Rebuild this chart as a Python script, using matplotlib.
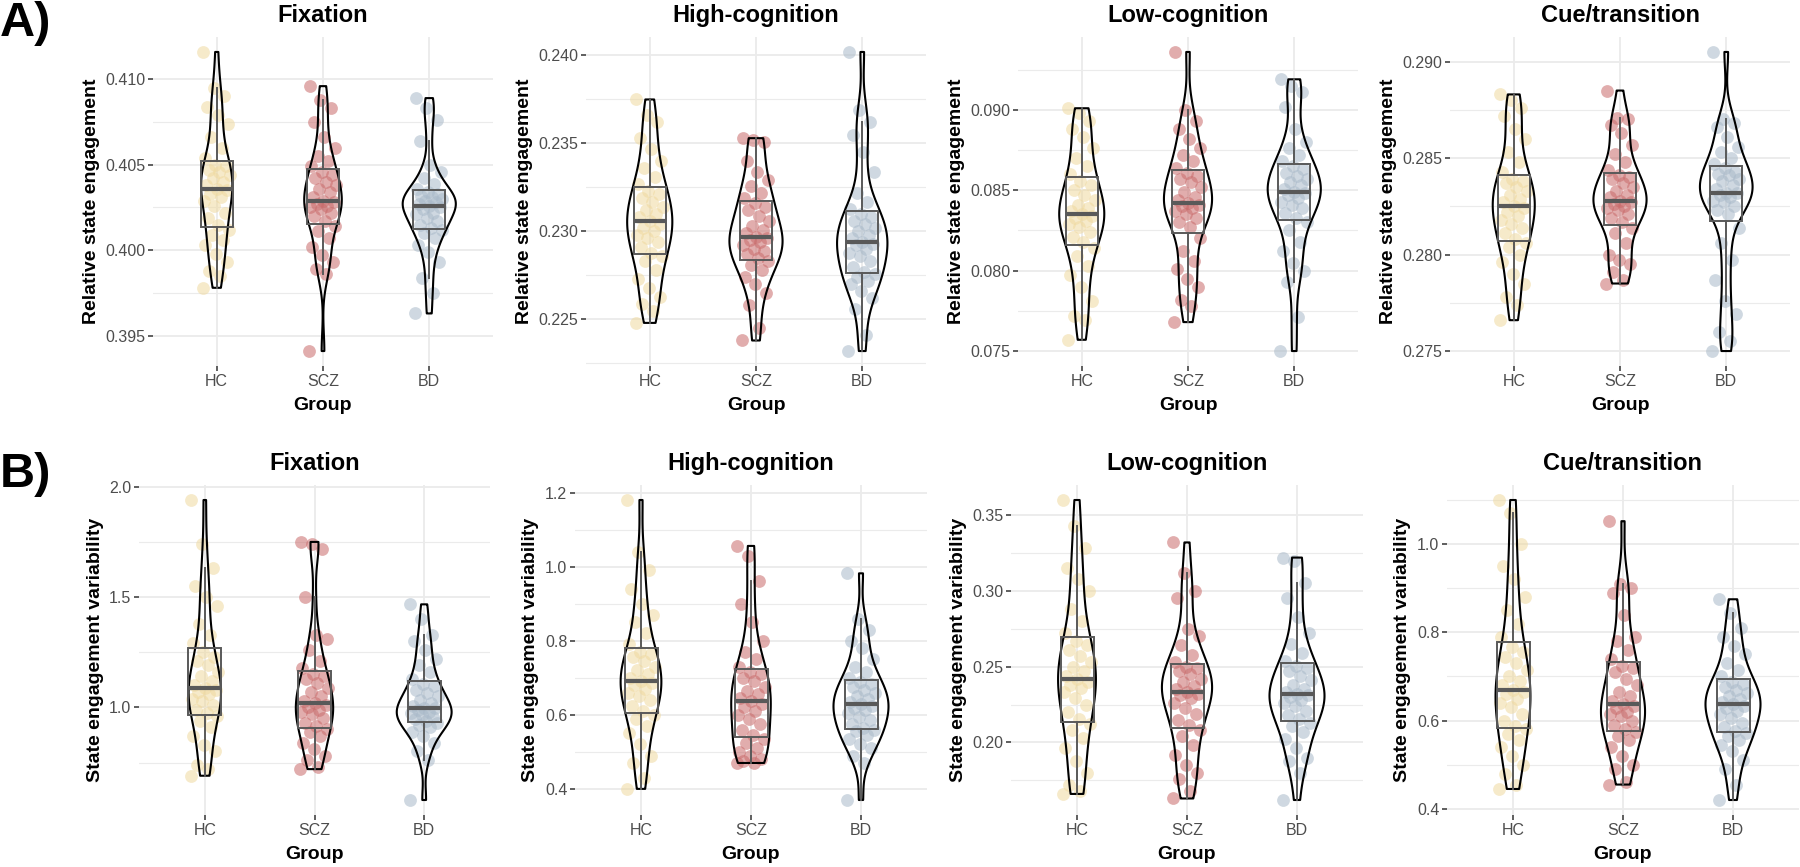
import numpy as np
import matplotlib
matplotlib.use("Agg")
import matplotlib.pyplot as plt
from matplotlib.patches import Rectangle

plt.rcParams['font.family'] = ['Liberation Sans', 'DejaVu Sans']

groups = ["HC", "SCZ", "BD"]
group_colors = ["#EFD99F", "#C96B6B", "#A9B9C9"]
states = ["Fixation", "High-cognition", "Low-cognition", "Cue/transition"]

# A) relative state engagement, one list per group (values read off the figure)
rel_fix_hc = [0.3978, 0.3985, 0.3988, 0.3993, 0.3998, 0.4003, 0.4006, 0.4009, 0.4012, 0.4015,
              0.4019, 0.4022, 0.4026, 0.4029, 0.4031, 0.4033, 0.4035, 0.4036, 0.4038, 0.4040,
              0.4042, 0.4044, 0.4046, 0.4047, 0.4049, 0.4050, 0.4054, 0.4060, 0.4066, 0.4074,
              0.4079, 0.4084, 0.4090, 0.4095, 0.4116]
rel_fix_scz = [0.3941, 0.3986, 0.3989, 0.3993, 0.3997, 0.4002, 0.4007, 0.4011, 0.4014, 0.4017,
               0.4020, 0.4022, 0.4024, 0.4025, 0.4026, 0.4027, 0.4028, 0.4029, 0.4031, 0.4034,
               0.4036, 0.4038, 0.4040, 0.4042, 0.4044, 0.4046, 0.4049, 0.4052, 0.4055, 0.4060,
               0.4066, 0.4075, 0.4083, 0.4088, 0.4096]
rel_fix_bd = [0.3963, 0.3975, 0.3984, 0.3993, 0.3999, 0.4003, 0.4007, 0.4010, 0.4012, 0.4013,
              0.4015, 0.4017, 0.4019, 0.4021, 0.4022, 0.4024, 0.4025, 0.4026, 0.4027, 0.4028,
              0.4029, 0.4030, 0.4031, 0.4032, 0.4033, 0.4034, 0.4036, 0.4039, 0.4042, 0.4046,
              0.4050, 0.4064, 0.4076, 0.4083, 0.4089]

rel_high_hc = [0.2248, 0.2255, 0.2259, 0.2263, 0.2268, 0.2273, 0.2278, 0.2283, 0.2286, 0.2288,
               0.2291, 0.2294, 0.2296, 0.2298, 0.2300, 0.2302, 0.2304, 0.2306, 0.2308, 0.2310,
               0.2312, 0.2314, 0.2317, 0.2319, 0.2321, 0.2323, 0.2327, 0.2331, 0.2336, 0.2340,
               0.2347, 0.2353, 0.2362, 0.2366, 0.2375]
rel_high_scz = [0.2238, 0.2245, 0.2258, 0.2265, 0.2270, 0.2274, 0.2278, 0.2281, 0.2283, 0.2285,
                0.2287, 0.2289, 0.2290, 0.2292, 0.2294, 0.2295, 0.2296, 0.2297, 0.2299, 0.2301,
                0.2303, 0.2306, 0.2309, 0.2312, 0.2314, 0.2316, 0.2319, 0.2322, 0.2326, 0.2329,
                0.2334, 0.2340, 0.2351, 0.2352, 0.2353]
rel_high_bd = [0.2232, 0.2241, 0.2256, 0.2262, 0.2266, 0.2270, 0.2272, 0.2274, 0.2276, 0.2277,
               0.2280, 0.2283, 0.2286, 0.2288, 0.2290, 0.2292, 0.2293, 0.2294, 0.2296, 0.2298,
               0.2300, 0.2302, 0.2304, 0.2306, 0.2308, 0.2310, 0.2313, 0.2317, 0.2322, 0.2334,
               0.2345, 0.2355, 0.2362, 0.2369, 0.2402]

rel_low_hc = [0.0757, 0.0769, 0.0772, 0.0781, 0.0790, 0.0797, 0.0803, 0.0809, 0.0814, 0.0818,
              0.0821, 0.0824, 0.0827, 0.0829, 0.0831, 0.0833, 0.0834, 0.0835, 0.0837, 0.0839,
              0.0841, 0.0844, 0.0847, 0.0850, 0.0853, 0.0856, 0.0860, 0.0865, 0.0870, 0.0876,
              0.0883, 0.0888, 0.0893, 0.0898, 0.0901]
rel_low_scz = [0.0768, 0.0778, 0.0782, 0.0790, 0.0795, 0.0801, 0.0806, 0.0812, 0.0820, 0.0827,
               0.0830, 0.0833, 0.0835, 0.0837, 0.0839, 0.0840, 0.0841, 0.0842, 0.0844, 0.0846,
               0.0849, 0.0852, 0.0855, 0.0857, 0.0859, 0.0861, 0.0864, 0.0868, 0.0872, 0.0876,
               0.0882, 0.0888, 0.0893, 0.0900, 0.0936]
rel_low_bd = [0.0750, 0.0771, 0.0793, 0.0800, 0.0805, 0.0812, 0.0818, 0.0825, 0.0830, 0.0833,
              0.0836, 0.0839, 0.0841, 0.0843, 0.0845, 0.0847, 0.0848, 0.0849, 0.0851, 0.0853,
              0.0855, 0.0857, 0.0859, 0.0861, 0.0863, 0.0865, 0.0868, 0.0872, 0.0876, 0.0880,
              0.0888, 0.0902, 0.0911, 0.0915, 0.0919]

rel_cue_hc = [0.2766, 0.2774, 0.2778, 0.2785, 0.2790, 0.2796, 0.2800, 0.2804, 0.2806, 0.2808,
              0.2811, 0.2814, 0.2816, 0.2818, 0.2820, 0.2822, 0.2824, 0.2825, 0.2827, 0.2829,
              0.2831, 0.2833, 0.2835, 0.2837, 0.2838, 0.2839, 0.2843, 0.2848, 0.2853, 0.2860,
              0.2865, 0.2872, 0.2876, 0.2880, 0.2883]
rel_cue_scz = [0.2785, 0.2787, 0.2791, 0.2795, 0.2797, 0.2800, 0.2806, 0.2811, 0.2814, 0.2817,
               0.2819, 0.2821, 0.2823, 0.2824, 0.2825, 0.2826, 0.2827, 0.2828, 0.2830, 0.2831,
               0.2833, 0.2835, 0.2837, 0.2839, 0.2840, 0.2841, 0.2844, 0.2848, 0.2852, 0.2857,
               0.2863, 0.2867, 0.2870, 0.2871, 0.2885]
rel_cue_bd = [0.2750, 0.2755, 0.2760, 0.2769, 0.2776, 0.2787, 0.2797, 0.2806, 0.2814, 0.2821,
              0.2823, 0.2825, 0.2827, 0.2828, 0.2830, 0.2831, 0.2832, 0.2832, 0.2834, 0.2836,
              0.2838, 0.2839, 0.2841, 0.2842, 0.2843, 0.2845, 0.2847, 0.2850, 0.2853, 0.2856,
              0.2861, 0.2866, 0.2868, 0.2870, 0.2905]

# B) state engagement variability
var_fix_hc = [0.69, 0.72, 0.74, 0.80, 0.83, 0.87, 0.91, 0.94, 0.96, 0.975,
              0.99, 1.01, 1.03, 1.04, 1.06, 1.07, 1.08, 1.09, 1.10, 1.12,
              1.14, 1.16, 1.19, 1.21, 1.23, 1.25, 1.29, 1.33, 1.38, 1.46,
              1.50, 1.55, 1.63, 1.74, 1.94]
var_fix_scz = [0.72, 0.73, 0.76, 0.78, 0.81, 0.84, 0.87, 0.89, 0.90, 0.915,
               0.93, 0.95, 0.97, 0.98, 0.99, 1.00, 1.01, 1.02, 1.03, 1.05,
               1.07, 1.09, 1.11, 1.13, 1.14, 1.15, 1.18, 1.21, 1.26, 1.31,
               1.33, 1.50, 1.72, 1.74, 1.75]
var_fix_bd = [0.58, 0.76, 0.80, 0.84, 0.87, 0.89, 0.91, 0.92, 0.93, 0.937,
              0.945, 0.955, 0.965, 0.975, 0.98, 0.99, 0.995, 0.997, 1.005, 1.02,
              1.035, 1.05, 1.065, 1.08, 1.095, 1.107, 1.13, 1.16, 1.19, 1.22,
              1.26, 1.30, 1.33, 1.40, 1.467]

var_high_hc = [0.40, 0.43, 0.47, 0.49, 0.52, 0.55, 0.57, 0.59, 0.60, 0.61,
               0.625, 0.64, 0.65, 0.66, 0.67, 0.68, 0.686, 0.692, 0.70, 0.71,
               0.72, 0.73, 0.745, 0.755, 0.765, 0.77, 0.79, 0.82, 0.85, 0.87,
               0.90, 0.94, 0.99, 1.04, 1.18]
var_high_scz = [0.47, 0.47, 0.475, 0.48, 0.49, 0.50, 0.51, 0.525, 0.535, 0.545,
                0.56, 0.575, 0.59, 0.60, 0.61, 0.62, 0.63, 0.638, 0.645, 0.655,
                0.665, 0.675, 0.69, 0.70, 0.71, 0.715, 0.73, 0.75, 0.77, 0.80,
                0.85, 0.90, 0.96, 1.03, 1.056]
var_high_bd = [0.37, 0.47, 0.49, 0.51, 0.52, 0.535, 0.545, 0.555, 0.56, 0.564,
               0.575, 0.585, 0.595, 0.605, 0.612, 0.618, 0.623, 0.628, 0.634, 0.642,
               0.65, 0.658, 0.666, 0.675, 0.682, 0.688, 0.70, 0.715, 0.73, 0.75,
               0.78, 0.80, 0.83, 0.86, 0.982]

var_low_hc = [0.166, 0.168, 0.172, 0.180, 0.188, 0.196, 0.203, 0.208, 0.212, 0.2155,
              0.220, 0.225, 0.229, 0.233, 0.236, 0.238, 0.240, 0.2417, 0.244, 0.247,
              0.250, 0.253, 0.257, 0.261, 0.264, 0.2668, 0.272, 0.280, 0.288, 0.300,
              0.308, 0.315, 0.328, 0.343, 0.360]
var_low_scz = [0.163, 0.168, 0.176, 0.180, 0.185, 0.192, 0.198, 0.204, 0.208, 0.2114,
               0.215, 0.219, 0.223, 0.226, 0.229, 0.231, 0.232, 0.2334, 0.235, 0.237,
               0.240, 0.242, 0.245, 0.247, 0.249, 0.250, 0.253, 0.258, 0.264, 0.270,
               0.275, 0.295, 0.300, 0.312, 0.332]
var_low_bd = [0.162, 0.180, 0.188, 0.190, 0.196, 0.202, 0.207, 0.211, 0.213, 0.2154,
              0.218, 0.221, 0.224, 0.226, 0.228, 0.230, 0.231, 0.2319, 0.233, 0.235,
              0.238, 0.241, 0.244, 0.247, 0.249, 0.2505, 0.254, 0.259, 0.265, 0.272,
              0.283, 0.295, 0.305, 0.320, 0.322]

var_cue_hc = [0.445, 0.455, 0.48, 0.50, 0.52, 0.54, 0.555, 0.57, 0.58, 0.588,
              0.60, 0.615, 0.63, 0.64, 0.65, 0.66, 0.665, 0.670, 0.68, 0.69,
              0.70, 0.715, 0.73, 0.745, 0.755, 0.767, 0.79, 0.82, 0.85, 0.88,
              0.92, 0.95, 1.00, 1.07, 1.10]
var_cue_scz = [0.455, 0.46, 0.49, 0.50, 0.52, 0.54, 0.555, 0.565, 0.575, 0.58,
               0.59, 0.60, 0.61, 0.615, 0.62, 0.628, 0.633, 0.637, 0.645, 0.655,
               0.665, 0.68, 0.695, 0.71, 0.72, 0.724, 0.74, 0.76, 0.78, 0.79,
               0.84, 0.89, 0.90, 0.91, 1.052]
var_cue_bd = [0.42, 0.455, 0.49, 0.51, 0.53, 0.545, 0.555, 0.565, 0.572, 0.577,
              0.585, 0.595, 0.605, 0.615, 0.622, 0.628, 0.633, 0.637, 0.642, 0.648,
              0.655, 0.662, 0.67, 0.677, 0.683, 0.687, 0.70, 0.715, 0.73, 0.75,
              0.77, 0.79, 0.81, 0.845, 0.875]

rel_ticks = [[0.395, 0.400, 0.405, 0.410], [0.225, 0.230, 0.235, 0.240],
             [0.075, 0.080, 0.085, 0.090], [0.275, 0.280, 0.285, 0.290]]
var_ticks = [[1.0, 1.5, 2.0], [0.4, 0.6, 0.8, 1.0, 1.2],
             [0.20, 0.25, 0.30, 0.35], [0.4, 0.6, 0.8, 1.0]]

box_gray = "#595959"


def nrd0(v):
    sd = np.std(v, ddof=1)
    q75, q25 = np.percentile(v, [75, 25])
    lo = min(sd, (q75 - q25) / 1.34)
    return 0.9 * lo * len(v) ** -0.2


def density(v):
    # gaussian kde trimmed to the data range, like geom_violin(trim=TRUE)
    grid = np.linspace(v.min(), v.max(), 512)
    bw = nrd0(v)
    k = np.exp(-0.5 * ((grid[:, None] - v[None, :]) / bw) ** 2)
    d = k.sum(axis=1) / (len(v) * bw * np.sqrt(2 * np.pi))
    return grid, d


def draw_panel(ax, data, title, ylabel, ticks, fmt):
    data = [np.asarray(v, dtype=float) for v in data]
    dens = [density(v) for v in data]
    dmax = max(d.max() for _, d in dens)

    for i, (v, (grid, d), c) in enumerate(zip(data, dens, group_colors)):
        x = i + 1
        jit = ((np.arange(len(v)) * 0.618034) % 1 - 0.5) * 0.26
        ax.scatter(x + jit, v, s=85, color=c, alpha=0.55, lw=0, zorder=2)

        hw = d / dmax * 0.25
        ax.fill_betweenx(grid, x - hw, x + hw, facecolor="none",
                         edgecolor="black", lw=1.5, zorder=3)

        q1, med, q3 = np.percentile(v, [25, 50, 75])
        iqr = q3 - q1
        lo = v[v >= q1 - 1.5 * iqr].min()
        hi = v[v <= q3 + 1.5 * iqr].max()
        ax.add_patch(Rectangle((x - 0.15, q1), 0.3, q3 - q1, fill=False,
                               ec=box_gray, lw=1.4, zorder=4))
        ax.plot([x, x], [q3, hi], color=box_gray, lw=1.4, zorder=4)
        ax.plot([x, x], [lo, q1], color=box_gray, lw=1.4, zorder=4)
        ax.plot([x - 0.15, x + 0.15], [med, med], color=box_gray, lw=3.0,
                solid_capstyle="butt", zorder=5)

    ax.set_xticks([1, 2, 3], groups)
    ax.set_yticks(ticks, [fmt.format(t) for t in ticks])
    step = ticks[1] - ticks[0]
    ax.set_yticks(np.arange(ticks[0] - step / 2, ticks[-1] + step, step), minor=True)

    # limits after the ticks so the outer minor ticks do not widen the view
    allv = np.concatenate(data)
    pad = 0.05 * (allv.max() - allv.min())
    ax.set_ylim(allv.min() - pad, allv.max() + pad)
    ax.set_xlim(0.4, 3.6)

    ax.grid(which="major", color="#EBEBEB", lw=1.3)
    ax.grid(which="minor", axis="y", color="#EBEBEB", lw=0.8)
    ax.set_axisbelow(True)
    ax.tick_params(which="minor", length=0)
    ax.tick_params(which="major", length=3.5, width=1.1, color="#333333",
                   labelcolor="#4D4D4D", labelsize=11.5, pad=2)
    for s in ax.spines.values():
        s.set_visible(False)

    ax.set_title(title, fontsize=17, fontweight="bold", pad=11)
    ax.set_ylabel(ylabel, fontsize=14, fontweight="bold", labelpad=4)
    ax.set_xlabel("Group", fontsize=14, fontweight="bold", labelpad=6)


W, H = 1800, 867
fig = plt.figure(figsize=(W / 100, H / 100), dpi=100)


def px_axes(left, right, top, bottom):
    return fig.add_axes([left / W, 1 - bottom / H, (right - left) / W, (bottom - top) / H])


rel_data = [[rel_fix_hc, rel_fix_scz, rel_fix_bd],
            [rel_high_hc, rel_high_scz, rel_high_bd],
            [rel_low_hc, rel_low_scz, rel_low_bd],
            [rel_cue_hc, rel_cue_scz, rel_cue_bd]]
var_data = [[var_fix_hc, var_fix_scz, var_fix_bd],
            [var_high_hc, var_high_scz, var_high_bd],
            [var_low_hc, var_low_scz, var_low_bd],
            [var_cue_hc, var_cue_scz, var_cue_bd]]

a_cols = [(153, 493), (586, 926), (1018, 1358), (1450, 1790)]
b_cols = [(139, 490), (575, 927), (1011, 1363), (1447, 1799)]
var_fmt = ["{:.1f}", "{:.1f}", "{:.2f}", "{:.1f}"]

for k in range(4):
    ax = px_axes(a_cols[k][0], a_cols[k][1], 37, 366)
    draw_panel(ax, rel_data[k], states[k], "Relative state engagement", rel_ticks[k], "{:.3f}")
    ax = px_axes(b_cols[k][0], b_cols[k][1], 485, 815)
    draw_panel(ax, var_data[k], states[k], "State engagement variability", var_ticks[k], var_fmt[k])

fig.text(0.0, 1 - 23 / H, "A)", fontsize=35, fontweight="bold", va="center", ha="left")
fig.text(0.0, 1 - 474 / H, "B)", fontsize=35, fontweight="bold", va="center", ha="left")

fig.savefig("out.png", dpi=100)
